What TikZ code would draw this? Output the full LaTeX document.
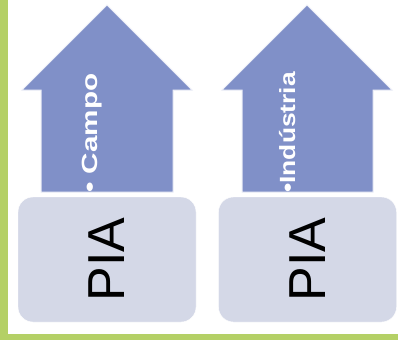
\documentclass[tikz,border=0pt]{standalone}
\usepackage{fontspec}
\setmainfont{Liberation Sans}
\usetikzlibrary{positioning}
\definecolor{frame}{RGB}{180,208,102}
\definecolor{arrowblue}{RGB}{128,144,200}
\definecolor{boxgrey}{RGB}{212,216,231}
\begin{document}
\begin{tikzpicture}[x=1pt,y=-1pt]
    \tikzset{pia/.style={draw=white,fill=boxgrey,rounded corners=15pt,minimum width=178pt,minimum height=125pt,inner sep=0pt},
      upstep/.style={fill=arrowblue,draw=white!85!arrowblue,line width=1pt},
      label/.style={text=white,rotate=90,anchor=base west,inner sep=0pt,font=\bfseries\fontsize{22}{22}\selectfont}}
    \useasboundingbox (0,0) rectangle (398,340);
    \fill[white] (0,0) rectangle (398,340);
    \fill[frame] (0,0) rectangle (8,340);
    \fill[frame] (0,334) rectangle (398,340);
    % arrows
    \draw[upstep] (41,192) -- (41,90) -- (22,90) -- (107,5) -- (192,90) -- (173,90) -- (173,192) -- cycle;
    \draw[upstep] (242,192) -- (242,90) -- (222,90) -- (307,5) -- (392,90) -- (373,90) -- (373,192) -- cycle;
    \node[label] (campo) at (97,193) {\scalebox{1.35}[1]{\textbullet\ Campo}};
    \node[label] (industria) at (295,193) {\scalebox{1.2}[1]{\textbullet Indústria}};
    % boxes
    \node[pia] (pia1) at (107,259.5) {};
    \node[pia] (pia2) at (307.5,259.5) {};
    \node[rotate=90,font=\fontsize{52}{52}\selectfont] (pialabel1) at (pia1) {PIA};
    \node[rotate=90,font=\fontsize{52}{52}\selectfont] (pialabel2) at (pia2) {PIA};
\end{tikzpicture}
\end{document}
